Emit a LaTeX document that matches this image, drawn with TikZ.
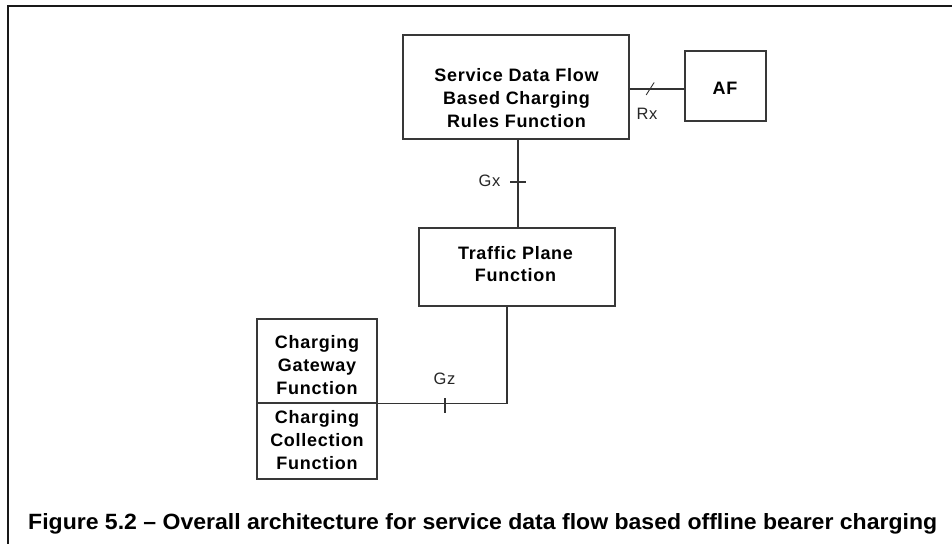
\documentclass[tikz,border=0pt]{standalone}
\usepackage{fontspec}
\setmainfont{Liberation Sans}
\newfontfamily\boxfont[LetterSpace=4]{Liberation Sans}
\usetikzlibrary{calc}
\begin{document}
\begin{tikzpicture}[x=1pt,y=-1pt,
  box/.style={draw=black!78, line width=1.1pt, inner sep=0pt},
  boxtext/.style={font=\boxfont\fontsize{18}{22.7}\selectfont\bfseries, align=center, inner sep=0pt, anchor=north},
  ifname/.style={font=\boxfont\fontsize{16.5}{20}\selectfont, inner sep=0pt, anchor=base, text=black!85},
  conn/.style={draw=black!80, line width=1.1pt},
  frame/.style={draw=black!90, line width=2pt}]
\useasboundingbox (0,0) rectangle (952,544);
% outer frame (top and left edges)
\draw[frame] (952,6) -- (7.8,6) -- (7.8,544);
% boxes
\node[box, minimum width=226pt, minimum height=104pt] (sdf) at (516,87) {};
\node[box, minimum width=81pt, minimum height=70pt] (af) at (725.5,86) {};
\node[box, minimum width=196pt, minimum height=78pt] (tpf) at (517,267) {};
\node[box, minimum width=120pt, minimum height=84pt] (cgf) at (317,361) {};
\node[box, minimum width=120pt, minimum height=76pt] (ccf) at (317,441) {};
% box texts
\node[boxtext] (sdft) at (516.5,68.5) {Service Data Flow\\Based Charging\\Rules Function};
\node[boxtext] (aft) at (725,81.5) {AF};
\node[boxtext] (tpft) at (515.5,246) {Traffic Plane\\Function};
\node[boxtext] (cgft) at (317,335.5) {Charging\\Gateway\\Function};
\node[boxtext] (ccft) at (317,410.5) {Charging\\Collection\\Function};
% Rx
\draw[conn] (sdf.east |- 0,89) -- coordinate[pos=0.375] (rxm) (af.west |- 0,89);
\draw[conn, line width=0.9pt] ([shift={(-4,6)}]rxm) -- ([shift={(4,-6.5)}]rxm);
\node[ifname] (rx) at (647,119) {Rx};
% Gx
\draw[conn] (sdf.south -| 518,0) -- coordinate[pos=0.483] (gxm) (tpf.north -| 518,0);
\draw[conn] ([shift={(-8,0)}]gxm) -- ([shift={(8,0)}]gxm);
\node[ifname] (gx) at (489.5,186) {Gx};
% Gz
\draw[conn] ([xshift=-10pt]tpf.south) |- (cgf.south east);
\coordinate (gzm) at (445,403);
\draw[conn] ([shift={(0,-5)}]gzm) -- ([shift={(0,10)}]gzm);
\node[ifname] (gz) at (444.5,384) {Gz};
% caption
\node[anchor=base west, inner sep=0pt] (cap) at (28,529) {\resizebox{909pt}{16pt}{\bfseries Figure 5.2 – Overall architecture for service data flow based offline bearer charging}};
\end{tikzpicture}
\end{document}
